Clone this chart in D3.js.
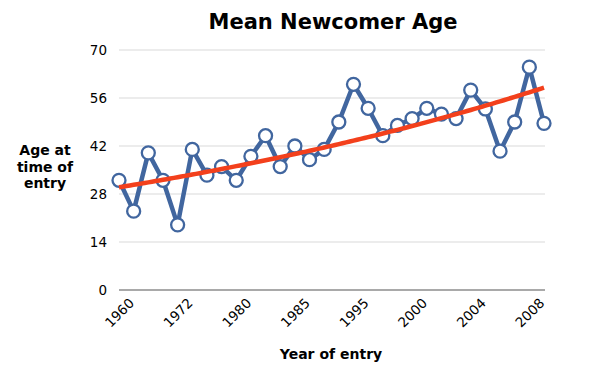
<!DOCTYPE html>
<html><head><meta charset="utf-8">
<script src="https://cdn.jsdelivr.net/npm/d3@7"></script>
<style>body{margin:0;background:#fff}svg{display:block}text{font-family:"DejaVu Sans",Verdana,sans-serif}</style>
</head><body><svg id="c" width="600" height="374"></svg>
<script>
const years = ["1960","1963","1966","1969","1972","1974","1976","1978","1980","1981","1982","1984","1985","1987","1990","1992","1995","1996","1997","1998","2000","2001","2002","2003","2004","2005","2006","2007","2008","2009"];
const ages = [32,23,40,32,19,41,33.5,36,32,39,45,36,42,38,41,49,60,53,45,48,50,53,51.3,50,58.3,52.8,40.5,49,65,48.6];
const yTicks = [0,14,28,42,56,70];
const labelYears = ["1960","1972","1980","1985","1995","2000","2004","2008"];

const svg = d3.select("#c");
const L=119, R=544, T=50, B=290;
const x = d3.scalePoint().domain(years).range([L,R]);
const y = d3.scaleLinear().domain([0,70]).range([B,T]);

// gridlines
svg.append("g").selectAll("line").data(yTicks.filter(d=>d>0)).join("line")
  .attr("x1",L).attr("x2",R+1).attr("y1",d=>y(d)).attr("y2",d=>y(d))
  .attr("stroke","#d9d9d9").attr("stroke-width",1.2);
svg.append("line").attr("x1",L).attr("x2",R+1).attr("y1",y(0)).attr("y2",y(0))
  .attr("stroke","#8c8c8c").attr("stroke-width",1.3);

// y tick labels
svg.append("g").selectAll("text").data(yTicks).join("text")
  .attr("x",107).attr("y",d=>y(d)).attr("dy","0.35em").attr("text-anchor","end")
  .attr("font-size",13.5).attr("fill","#000").text(d=>d);

// x tick labels
svg.append("g").selectAll("text").data(labelYears).join("text")
  .attr("transform",d=>`translate(${x(d)+16},${y(0)+14}) rotate(-45)`)
  .attr("text-anchor","end").attr("font-size",13.5).attr("fill","#000").text(d=>d);

// titles
svg.append("text").attr("x",333).attr("y",29).attr("text-anchor","middle")
  .attr("font-size",21).attr("font-weight","bold").text("Mean Newcomer Age");
svg.append("text").attr("x",331).attr("y",359).attr("text-anchor","middle")
  .attr("font-size",14).attr("font-weight","bold").text("Year of entry");
const yt = svg.append("text").attr("text-anchor","middle").attr("font-size",14).attr("font-weight","bold");
["Age at","time of","entry"].forEach((s,i)=>yt.append("tspan").attr("x",45).attr("y",155+i*16.7).text(s));

// data line
const data = years.map((d,i)=>({k:d,v:ages[i]}));
svg.append("path").datum(data)
  .attr("d",d3.line().x(d=>x(d.k)).y(d=>y(d.v)))
  .attr("fill","none").attr("stroke","#41669f").attr("stroke-width",4.5).attr("stroke-linejoin","round");

// exponential trendline fitted from data
const n=ages.length, idx=d3.range(n), lv=ages.map(Math.log);
const mx=d3.mean(idx), my=d3.mean(lv);
const slope=d3.sum(idx,i=>(i-mx)*(lv[i]-my))/d3.sum(idx,i=>(i-mx)**2);
const icpt=my-slope*mx;
const xi = d3.scaleLinear().domain([0,n-1]).range([L,R]);
const trend = d3.range(0,n-1+0.001,0.25).map(t=>[t,Math.exp(icpt+slope*t)]);

// markers
svg.append("g").selectAll("circle").data(data).join("circle")
  .attr("cx",d=>x(d.k)).attr("cy",d=>y(d.v)).attr("r",6.5)
  .attr("fill","#fff").attr("stroke","#41669f").attr("stroke-width",2.3);

svg.append("path").datum(trend)
  .attr("d",d3.line().x(d=>xi(d[0])).y(d=>y(d[1])))
  .attr("fill","none").attr("stroke","#f3401c").attr("stroke-width",4.5).attr("stroke-linecap","butt");
</script></body></html>
